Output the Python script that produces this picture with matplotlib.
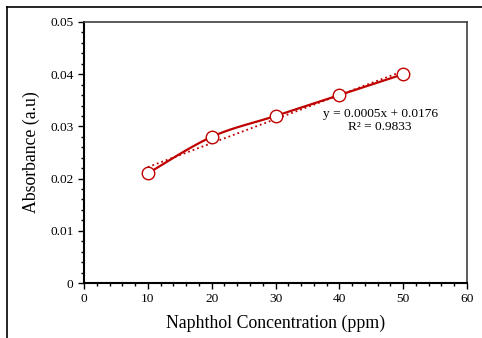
import numpy as np
import matplotlib.pyplot as plt
from matplotlib.lines import Line2D
from matplotlib.ticker import MultipleLocator

conc = [10, 20, 30, 40, 50]
absorb = [0.021, 0.028, 0.032, 0.036, 0.040]
equation = 'y = 0.0005x + 0.0176'
r_squared = 'R² = 0.9833'

red = '#C00000'
plt.rcParams['font.family'] = ['Liberation Serif', 'DejaVu Serif']


def smooth(x, y, n=30):
    """Catmull-Rom style smoothing like a spreadsheet smoothed line"""
    x = np.asarray(x, float)
    y = np.asarray(y, float)
    px = np.concatenate([[x[0]], x, [x[-1]]])
    py = np.concatenate([[y[0]], y, [y[-1]]])
    xs, ys = [], []
    t = np.linspace(0, 1, n)
    for i in range(1, len(px) - 2):
        p0 = np.array([px[i], py[i]])
        p3 = np.array([px[i + 1], py[i + 1]])
        p1 = p0 + (np.array([px[i + 1], py[i + 1]]) - np.array([px[i - 1], py[i - 1]])) / 6
        p2 = p3 - (np.array([px[i + 2], py[i + 2]]) - np.array([px[i], py[i]])) / 6
        b = ((1 - t) ** 3)[:, None] * p0 + (3 * (1 - t) ** 2 * t)[:, None] * p1 \
            + (3 * (1 - t) * t ** 2)[:, None] * p2 + (t ** 3)[:, None] * p3
        xs.extend(b[:, 0])
        ys.extend(b[:, 1])
    return xs, ys


fig = plt.figure(figsize=(4.82, 3.38), dpi=100)
ax = fig.add_axes([84 / 482, 1 - 283 / 338, 383 / 482, 261 / 338])

sx, sy = smooth(conc, absorb)
ax.plot(sx, sy, color=red, lw=1.6, zorder=3)
ax.plot(conc, absorb, 'o', ms=9, mfc='white', mec=red, mew=1.0, zorder=4)

slope, icpt = np.polyfit(conc, absorb, 1)
fx = np.array([conc[0], conc[-1]])
ax.plot(fx, slope * fx + icpt, ':', color=red, lw=1.3, zorder=2)

ax.text(46.4, 0.0311, equation + '\n' + r_squared, ha='center', va='center',
        fontsize=9.6, linespacing=1.15)

ax.set_xlim(0, 60)
ax.set_ylim(0, 0.05)
ax.xaxis.set_major_locator(MultipleLocator(10))
ax.xaxis.set_minor_locator(MultipleLocator(2))
ax.yaxis.set_major_locator(MultipleLocator(0.01))
ax.yaxis.set_minor_locator(MultipleLocator(0.002))
ax.yaxis.set_major_formatter(plt.FuncFormatter(lambda v, p: '0' if v == 0 else '%.2f' % v))
ax.tick_params(which='both', direction='out', labelsize=9.6, width=1)
ax.tick_params(which='major', length=4)
ax.tick_params(which='minor', length=2.5)
for s in ['left', 'bottom']:
    ax.spines[s].set_linewidth(1.5)
for s in ['right', 'top']:
    ax.spines[s].set_linewidth(1.2)
    ax.spines[s].set_color('#404040')

ax.set_xlabel('Naphthol Concentration (ppm)', fontsize=12.8, labelpad=7)
ax.set_ylabel('Absorbance (a.u)', fontsize=12.8, labelpad=7)

# outer border
fig.add_artist(Line2D([7 / 482, 7 / 482], [0, 1 - 7 / 338], transform=fig.transFigure,
                      color='black', lw=1.2))
fig.add_artist(Line2D([7 / 482, 1], [1 - 7 / 338, 1 - 7 / 338], transform=fig.transFigure,
                      color='black', lw=1.2))

fig.savefig('out.png', dpi=100)
